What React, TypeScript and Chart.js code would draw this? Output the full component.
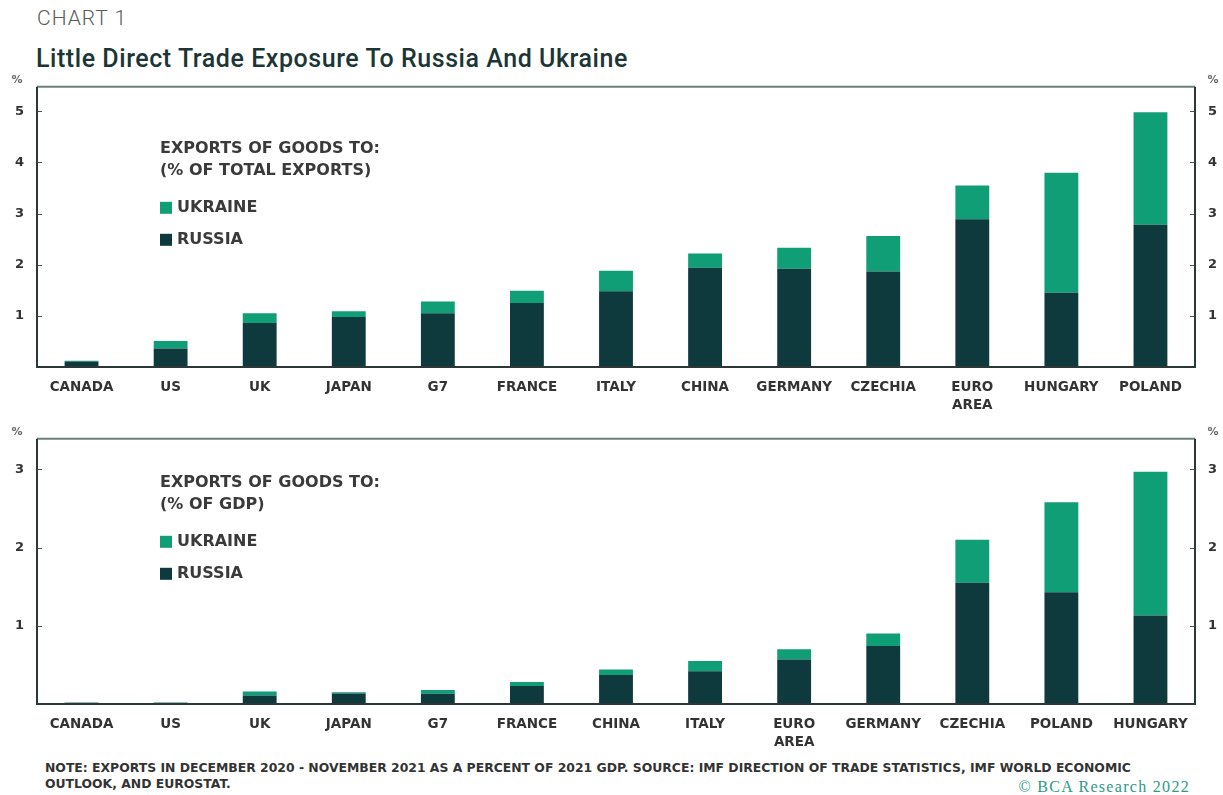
import React, { useEffect, useRef } from "react";
import { Chart, registerables } from "chart.js";

Chart.register(...registerables);

// ---------- DATA ----------
const TOP_CATEGORIES: (string | string[])[] = [
  "CANADA", "US", "UK", "JAPAN", "G7", "FRANCE", "ITALY", "CHINA", "GERMANY", "CZECHIA", ["EURO", "AREA"], "HUNGARY", "POLAND",
];
const TOP_RUSSIA = [0.11, 0.36, 0.86, 0.98, 1.05, 1.25, 1.48, 1.94, 1.92, 1.87, 2.89, 1.45, 2.78];
const TOP_UKRAINE = [0.01, 0.15, 0.19, 0.11, 0.23, 0.24, 0.40, 0.28, 0.41, 0.69, 0.66, 2.35, 2.20];
const TOP_TICKS = [1, 2, 3, 4, 5];

const BOTTOM_CATEGORIES: (string | string[])[] = [
  "CANADA", "US", "UK", "JAPAN", "G7", "FRANCE", "CHINA", "ITALY", ["EURO", "AREA"], "GERMANY", "CZECHIA", "POLAND", "HUNGARY",
];
const BOTTOM_RUSSIA = [0.015, 0.015, 0.11, 0.135, 0.13, 0.23, 0.37, 0.42, 0.57, 0.74, 1.55, 1.43, 1.13];
const BOTTOM_UKRAINE = [0.005, 0.005, 0.05, 0.015, 0.05, 0.05, 0.07, 0.13, 0.13, 0.16, 0.55, 1.15, 1.84];
const BOTTOM_TICKS = [1, 2, 3];

const SERIES_NAMES = ["RUSSIA", "UKRAINE"];
const TOP_LEGEND_TITLE = ["EXPORTS OF GOODS TO:", "(% OF TOTAL EXPORTS)"];
const BOTTOM_LEGEND_TITLE = ["EXPORTS OF GOODS TO:", "(% OF GDP)"];

// ---------- STYLE ----------
const RUSSIA_COLOR = "#0e3a3e";
const UKRAINE_COLOR = "#0f9e76";
const TEXT_COLOR = "#333333";
const FONT = "'DejaVu Sans', sans-serif";

const framePlugin = {
  id: "frame",
  afterDraw(chart: any, _args: any, opts: any) {
    const { ctx, chartArea: a } = chart;
    const ys = chart.scales.y;
    ctx.save();
    // inward tick marks
    ctx.strokeStyle = "#555";
    ctx.lineWidth = 1;
    (opts.ticks as number[]).forEach((v) => {
      const y = Math.round(ys.getPixelForValue(v)) + 0.5;
      ctx.beginPath();
      ctx.moveTo(a.left, y);
      ctx.lineTo(a.left + 5, y);
      ctx.moveTo(a.right - 5, y);
      ctx.lineTo(a.right, y);
      ctx.stroke();
    });
    // frame
    ctx.lineWidth = 2;
    ctx.strokeStyle = "#6d7f7c";
    ctx.beginPath();
    ctx.moveTo(a.left, a.top);
    ctx.lineTo(a.right, a.top);
    ctx.stroke();
    ctx.strokeStyle = "#2c3838";
    ctx.beginPath();
    ctx.moveTo(a.left, a.top);
    ctx.lineTo(a.left, a.bottom);
    ctx.lineTo(a.right, a.bottom);
    ctx.lineTo(a.right, a.top);
    ctx.stroke();
    // % unit labels
    ctx.fillStyle = "#666";
    ctx.font = `bold 11px ${FONT}`;
    ctx.textAlign = "center";
    ctx.textBaseline = "middle";
    ctx.fillText("%", 17, a.top - 7);
    ctx.fillText("%", 1213, a.top - 7);
    // legend
    const lx = 160;
    const t = a.top + opts.legendOffset;
    ctx.textAlign = "left";
    ctx.fillStyle = "#3a3a3a";
    ctx.font = `bold 16px ${FONT}`;
    ctx.fillText(opts.title[0], lx, t);
    ctx.fillText(opts.title[1], lx, t + 22);
    ctx.fillStyle = UKRAINE_COLOR;
    ctx.fillRect(lx, t + 53, 12, 12);
    ctx.fillStyle = RUSSIA_COLOR;
    ctx.fillRect(lx, t + 85, 12, 12);
    ctx.fillStyle = "#3a3a3a";
    ctx.fillText(SERIES_NAMES[1], lx + 17, t + 59);
    ctx.fillText(SERIES_NAMES[0], lx + 17, t + 91);
    ctx.restore();
  },
};

type Props = {
  categories: (string | string[])[];
  russia: number[];
  ukraine: number[];
  ticks: number[];
  max: number;
  height: number;
  padTop: number;
  xHeight: number;
  title: string[];
  legendOffset: number;
  top: number;
};

function StackedChart(p: Props) {
  const ref = useRef<HTMLCanvasElement>(null);
  useEffect(() => {
    const canvas = ref.current!;
    const tickCb = (v: any) => (p.ticks.includes(Number(v)) ? String(v) : "");
    const yTicks = { color: TEXT_COLOR, font: { family: FONT, weight: "bold" as const, size: 13 }, stepSize: 1, autoSkip: false };
    const chart = new Chart(canvas, {
      type: "bar",
      data: {
        labels: p.categories as any,
        datasets: [
          { label: SERIES_NAMES[0], data: p.russia, backgroundColor: RUSSIA_COLOR, barPercentage: 0.38, categoryPercentage: 1 },
          { label: SERIES_NAMES[1], data: p.ukraine, backgroundColor: UKRAINE_COLOR, barPercentage: 0.38, categoryPercentage: 1 },
        ],
      },
      options: {
        animation: false,
        responsive: false,
        devicePixelRatio: 1,
        layout: { padding: { top: p.padTop, bottom: 0, left: 0, right: 0 } },
        plugins: {
          legend: { display: false },
          tooltip: { enabled: false },
          frame: { ticks: p.ticks, title: p.title, legendOffset: p.legendOffset },
        } as any,
        scales: {
          x: {
            stacked: true,
            grid: { display: false, drawTicks: false },
            border: { display: false },
            ticks: { color: TEXT_COLOR, font: { family: FONT, weight: "bold", size: 13.5, lineHeight: 1.35 }, padding: 11, maxRotation: 0, autoSkip: false },
            afterFit: (s: any) => { s.height = p.xHeight; },
          },
          y: {
            stacked: true,
            position: "left",
            min: 0,
            max: p.max,
            grid: { display: false, drawTicks: false },
            border: { display: false },
            ticks: { ...yTicks, padding: 13, callback: tickCb },
            afterFit: (s: any) => { s.width = 37; },
          },
          y2: {
            position: "right",
            min: 0,
            max: p.max,
            grid: { display: false, drawTicks: false },
            border: { display: false },
            ticks: { ...yTicks, padding: 13, callback: tickCb },
            afterFit: (s: any) => { s.width = 28; },
          },
        } as any,
      },
      plugins: [framePlugin],
    });
    return () => chart.destroy();
  }, []);
  return (
    <canvas
      ref={ref}
      width={1223}
      height={p.height}
      style={{ position: "absolute", left: 0, top: p.top, width: 1223, height: p.height }}
    />
  );
}

export default function App() {
  return (
    <div style={{ position: "absolute", left: 0, top: 0, width: 1223, height: 795, background: "#fff", overflow: "hidden" }}>
      <div style={{ position: "absolute", left: 37, top: 6, fontFamily: "Roboto, sans-serif", fontWeight: 300, fontSize: 21, letterSpacing: 1, color: "#5a5a5a" }}>
        CHART 1
      </div>
      <div style={{ position: "absolute", left: 36, top: 44, fontFamily: "Roboto, sans-serif", fontWeight: 500, fontSize: 25, color: "#1c3535", letterSpacing: 0.55 }}>
        Little Direct Trade Exposure To Russia And Ukraine
      </div>
      <StackedChart
        categories={TOP_CATEGORIES}
        russia={TOP_RUSSIA}
        ukraine={TOP_UKRAINE}
        ticks={TOP_TICKS}
        max={5.48}
        height={352}
        padTop={16}
        xHeight={51}
        title={TOP_LEGEND_TITLE}
        legendOffset={62}
        top={66}
      />
      <StackedChart
        categories={BOTTOM_CATEGORIES}
        russia={BOTTOM_RUSSIA}
        ukraine={BOTTOM_UKRAINE}
        ticks={BOTTOM_TICKS}
        max={3.39}
        height={340}
        padTop={14}
        xHeight={54}
        title={BOTTOM_LEGEND_TITLE}
        legendOffset={44}
        top={418}
      />
      <div style={{ position: "absolute", left: 45, top: 760, fontFamily: FONT, fontWeight: 700, fontSize: 12.4, color: "#333", lineHeight: "16px", whiteSpace: "nowrap" }}>
        NOTE: EXPORTS IN DECEMBER 2020 - NOVEMBER 2021 AS A PERCENT OF 2021 GDP. SOURCE: IMF DIRECTION OF TRADE STATISTICS, IMF WORLD ECONOMIC
        <br />
        OUTLOOK, AND EUROSTAT.
      </div>
      <div style={{ position: "absolute", right: 33, top: 778, fontFamily: "'Liberation Serif', serif", fontSize: 16, letterSpacing: 1.3, color: "#2a9a86" }}>
        © BCA Research 2022
      </div>
    </div>
  );
}
